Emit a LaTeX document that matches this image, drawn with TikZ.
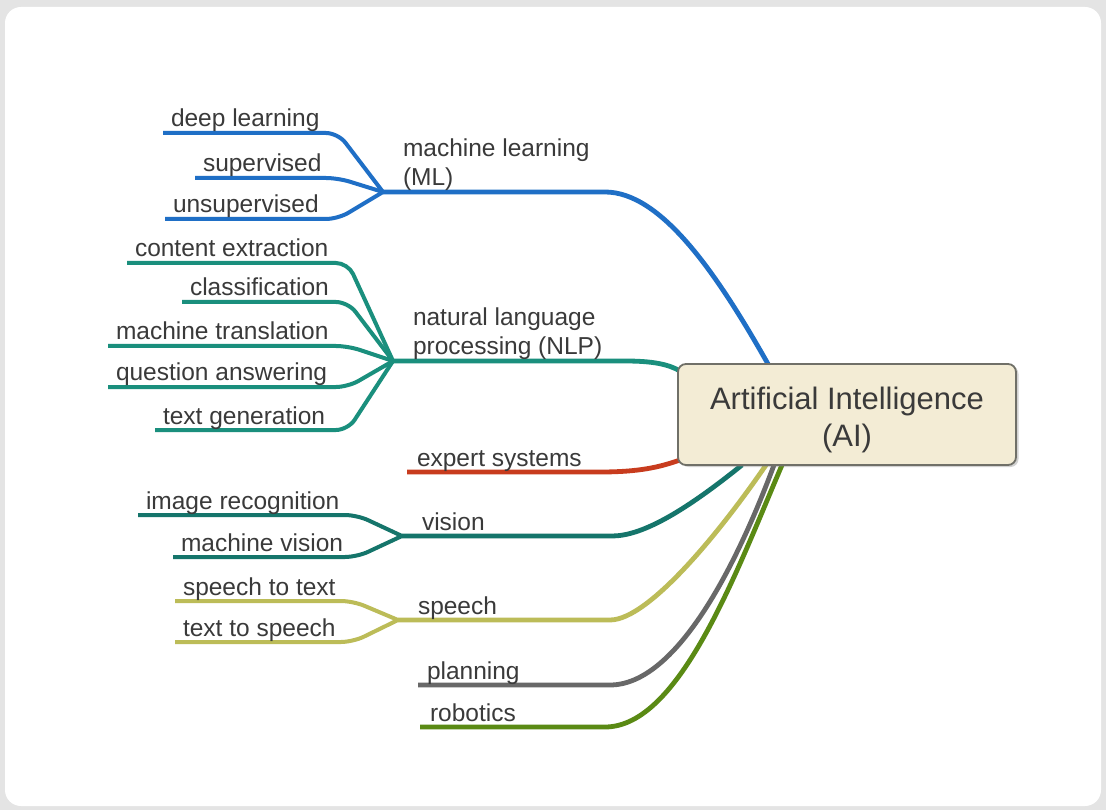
\documentclass[tikz,border=0pt]{standalone}
\usepackage{fontspec}
\setmainfont{Liberation Sans}
\usetikzlibrary{calc,shadows}
\pgfdeclarelayer{back}
\pgfdeclarelayer{lines}
\pgfsetlayers{back,lines,main}

\definecolor{mlblue}{HTML}{1F6FC6}
\definecolor{nlpteal}{HTML}{1A8F7D}
\definecolor{expred}{HTML}{C83C1E}
\definecolor{visteal}{HTML}{15756B}
\definecolor{spolive}{HTML}{BCBC58}
\definecolor{plgray}{HTML}{686868}
\definecolor{robgreen}{HTML}{5A8A14}
\definecolor{inkgray}{HTML}{3A3A3A}
\definecolor{boxfill}{HTML}{F3ECD5}
\definecolor{boxline}{HTML}{707068}
\definecolor{pagegray}{HTML}{E4E4E4}

\begin{document}
\begin{tikzpicture}[x=1pt,y=-1pt,
  every node/.style={text=inkgray, font=\fontsize{24.5}{29.5}\selectfont},
  leaf/.style={anchor=south west, inner xsep=8pt, inner ysep=0pt, text depth=6pt, outer sep=0pt},
  topic/.style={anchor=south west, inner xsep=20pt, inner ysep=0pt, text depth=6pt, outer sep=0pt, align=left},
  twig/.style={line width=4pt, rounded corners=12pt},
  trunk/.style={line width=4.8pt},
  fan/.style={to path={-- ([xshift=-45pt]\tikztotarget |- \tikztostart) -- (\tikztotarget)}},
  core/.style={draw=boxline, line width=1.8pt, fill=boxfill, rounded corners=8pt,
    minimum width=338pt, minimum height=101pt, outer sep=0pt,
    drop shadow={shadow xshift=2.5pt, shadow yshift=-2pt, opacity=0.35}},
  coretext/.style={align=center, inner sep=0pt, font=\fontsize{31}{37}\selectfont}]

\useasboundingbox (0,0) rectangle (1106,810);

% page and card
\begin{pgfonlayer}{back}
  \fill[pagegray] (0,0) rectangle (1106,810);
  \fill[white, rounded corners=16pt] (5,7) rectangle (1101,806);
\end{pgfonlayer}

% central topic
\node[core] (ai) at (847,414.5) {};
\node[coretext] (ailabel) at (847,420) {Artificial Intelligence\\(AI)};

% branch junctions
\coordinate (mlj) at (383,192);
\coordinate (nlpj) at (393,361);
\coordinate (visj) at (402,536);
\coordinate (spj) at (398,620);

% branch labels
\node[topic] (ml) at (mlj) {machine learning\\(ML)};
\node[topic] (nlp) at (nlpj) {natural language\\processing (NLP)};
\node[topic] (vis) at (visj) {vision};
\node[topic] (sp) at (spj) {speech};
\node[leaf, inner xsep=10pt] (es) at (407,472) {expert systems};
\node[leaf, inner xsep=9pt] (pl) at (418,685) {planning};
\node[leaf, inner xsep=10pt] (ro) at (420,727) {robotics};

% leaves
\node[leaf] (dl) at (163,133) {deep learning};
\node[leaf] (sv) at (195,178) {supervised};
\node[leaf] (us) at (165,219) {unsupervised};

\node[leaf] (ce) at (127,263) {content extraction};
\node[leaf] (cl) at (182,302) {classification};
\node[leaf] (mt) at (108,346) {machine translation};
\node[leaf] (qa) at (108,387) {question answering};
\node[leaf] (tg) at (155,430) {text generation};

\node[leaf] (ir) at (138,515) {image recognition};
\node[leaf] (mv) at (173,557) {machine vision};

\node[leaf] (st) at (175,601) {speech to text};
\node[leaf] (ts) at (175,642) {text to speech};

\begin{pgfonlayer}{lines}
  % machine learning
  \draw[trunk, mlblue] (mlj) -- ++(222,0)
    .. controls +(55,0) and +(-53,-94) .. ($(ai.north west)+(90,0)$);
  \foreach \l in {dl,sv,us} \draw[twig, mlblue] (\l.south west) to[fan] (mlj);

  % natural language processing
  \draw[trunk, nlpteal] (nlpj) -- ++(232,0)
    .. controls +(27,0) and +(-12,-7) .. ($(ai.north west)+(2,7)$);
  \foreach \l in {ce,cl,mt,qa,tg} \draw[twig, nlpteal] (\l.south west) to[fan] (nlpj);

  % expert systems
  \draw[trunk, expred] (es.south west) -- ++(193,0)
    .. controls +(40,0) and +(-20,7) .. ($(ai.south west)+(2,-5)$);

  % vision
  \draw[trunk, visteal] (visj) -- ++(210,0)
    .. controls +(28,0) and +(-62,50) .. ($(ai.south west)+(64,0)$);
  \foreach \l in {ir,mv} \draw[twig, visteal] (\l.south west) to[fan] (visj);

  % speech
  \draw[trunk, spolive] (spj) -- ++(212,0)
    .. controls +(40,0) and +(-41,60) .. ($(ai.south west)+(88,0)$);
  \foreach \l in {st,ts} \draw[twig, spolive] (\l.south west) to[fan] (spj);

  % planning
  \draw[trunk, plgray] (pl.south west) -- ++(192,0)
    .. controls +(65,0) and +(-39,105) .. ($(ai.south west)+(96,0)$);

  % robotics
  \draw[trunk, robgreen] (ro.south west) -- ++(185,0)
    .. controls +(75,0) and +(-45,105) .. ($(ai.south west)+(104,0)$);
\end{pgfonlayer}
\end{tikzpicture}
\end{document}
